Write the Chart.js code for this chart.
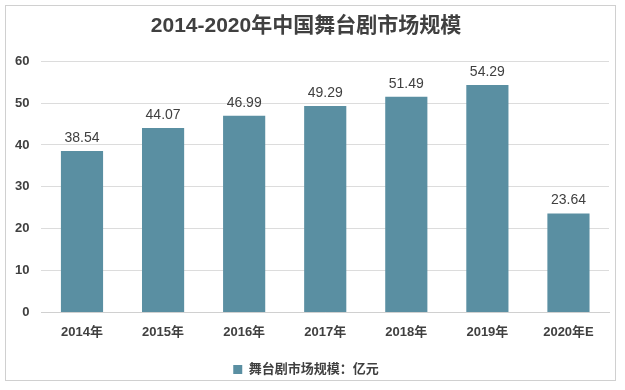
<!DOCTYPE html>
<html>
<head>
<meta charset="utf-8">
<script src="https://cdn.jsdelivr.net/npm/chart.js@4"></script>
<style>
  body { margin: 0; background: #fff; }
  #frame {
    position: absolute; left: 5px; top: 5px; width: 611px; height: 376px;
    border: 1px solid #d0d0d0; box-sizing: border-box;
  }
  #wrap { position: absolute; left: 0; top: 0; width: 625px; height: 390px; }
</style>
</head>
<body>
<div id="frame"></div>
<div id="wrap"><canvas id="chart"></canvas></div>
<script>
const categories = ['2014年', '2015年', '2016年', '2017年', '2018年', '2019年', '2020年E'];
const marketSize = [38.54, 44.07, 46.99, 49.29, 51.49, 54.29, 23.64];
const yTicks = [0, 10, 20, 30, 40, 50, 60];

const fontFamily = '"Liberation Sans", "Noto Sans CJK SC", sans-serif';
const barColor = '#5a8fa2';

// draw value labels above each bar
const valueLabels = {
    id: 'valueLabels',
    afterDatasetsDraw(chart) {
        const ctx = chart.ctx;
        const meta = chart.getDatasetMeta(0);
        ctx.save();
        ctx.font = '14px ' + fontFamily;
        ctx.fillStyle = '#404040';
        ctx.textAlign = 'center';
        ctx.textBaseline = 'bottom';
        meta.data.forEach((bar, i) => {
            ctx.fillText(marketSize[i].toFixed(2), bar.x, bar.y - 6);
        });
        ctx.restore();
    }
};

new Chart(document.getElementById('chart'), {
    type: 'bar',
    data: {
        labels: categories,
        datasets: [{
            label: '舞台剧市场规模：亿元',
            data: marketSize,
            backgroundColor: barColor,
            borderWidth: 0,
            categoryPercentage: 1,
            barPercentage: 0.52
        }]
    },
    options: {
        responsive: true,
        maintainAspectRatio: false,
        animation: false,
        layout: { padding: { left: 3, right: 16, top: 6, bottom: 4 } },
        plugins: {
            title: {
                display: true,
                text: '2014-2020年中国舞台剧市场规模',
                color: '#404040',
                font: { family: fontFamily, size: 21, weight: 'bold' },
                padding: { top: 8, bottom: 22 }
            },
            legend: {
                position: 'bottom',
                labels: {
                    color: '#404040',
                    font: { family: fontFamily, size: 13, weight: 'bold' },
                    boxWidth: 9,
                    boxHeight: 9,
                    padding: 11
                }
            },
            tooltip: { enabled: false }
        },
        scales: {
            x: {
                grid: { display: false, drawTicks: false },
                border: { color: '#d0d0d0' },
                ticks: {
                    color: '#404040',
                    padding: 12,
                    font: { family: fontFamily, size: 13, weight: 'bold' }
                }
            },
            y: {
                min: yTicks[0],
                max: yTicks[yTicks.length - 1],
                grid: { color: '#dcdcdc', drawTicks: false },
                border: { display: false },
                afterBuildTicks: (axis) => { axis.ticks = yTicks.map(v => ({ value: v })); },
                ticks: {
                    color: '#404040',
                    padding: 12,
                    font: { family: fontFamily, size: 13, weight: 'bold' }
                }
            }
        }
    },
    plugins: [valueLabels]
});
</script>
</body>
</html>
